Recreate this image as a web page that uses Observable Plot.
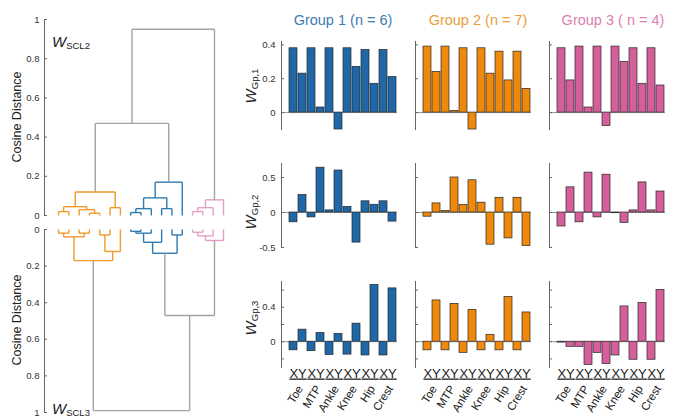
<!DOCTYPE html>
<html><head><meta charset="utf-8">
<script src="https://cdn.jsdelivr.net/npm/d3@7"></script>
<script src="https://cdn.jsdelivr.net/npm/@observablehq/plot@0.6"></script>
<style>
body{margin:0;background:#fff;font-family:"Liberation Sans",Arial,sans-serif;}
#c{position:relative;width:675px;height:419px;overflow:hidden;background:#fff;}
#c svg{position:absolute;}
.t{position:absolute;white-space:nowrap;line-height:1;}
.title{font-size:14.5px;transform:translateX(-50%);}
.rot{transform:translate(-50%,-50%) rotate(-90deg);}
.w{font-style:italic;font-size:15px;color:#222;}
.w sub{font-style:normal;font-size:9.5px;vertical-align:-2px;}
.cd{font-size:12.5px;color:#222;}
</style></head><body><div id="c"></div>
<script>
// ---------- data ----------
const joints = ["Toe","MTP","Ankle","Knee","Hip","Crest"];
const axesXY = ["X","Y"];
const groupTitles = ["Group 1 (n = 6)","Group 2 (n = 7)","Group 3 ( n = 4)"];
const groupSizes = [6,7,4];
const barColors = ["#1f67a6","#ef890b","#d55f9b"];
const titleColors = ["#3b7cb0","#e9a03a","#de80ae"];
const weightLabels = ["Gp,1","Gp,2","Gp,3"];

// W_Gp,1 row
const wGp1_group1 = [0.38,0.23,0.38,0.03,0.38,-0.10,0.38,0.27,0.37,0.17,0.37,0.21];
const wGp1_group2 = [0.39,0.24,0.39,0.01,0.38,-0.10,0.38,0.23,0.36,0.19,0.36,0.14];
const wGp1_group3 = [0.38,0.19,0.39,0.03,0.39,-0.08,0.39,0.30,0.38,0.17,0.38,0.16];
// W_Gp,2 row
const wGp2_group1 = [-0.14,0.25,-0.07,0.64,0.03,0.60,0.08,-0.43,0.16,0.11,0.16,-0.13];
const wGp2_group2 = [-0.06,0.13,0.02,0.50,0.11,0.46,0.14,-0.46,0.21,-0.37,0.21,-0.48];
const wGp2_group3 = [-0.20,0.36,-0.14,0.57,-0.07,0.54,-0.01,-0.15,0.03,0.43,0.03,0.30];
// W_Gp,3 row
const wGp3_group1 = [-0.10,0.14,-0.11,0.10,-0.155,0.09,-0.15,0.21,-0.16,0.66,-0.16,0.62];
const wGp3_group2 = [-0.10,0.48,-0.10,0.44,-0.13,0.37,-0.10,0.08,-0.10,0.52,-0.10,0.34];
const wGp3_group3 = [-0.01,-0.06,-0.06,-0.27,-0.13,-0.26,-0.16,0.41,-0.21,0.45,-0.21,0.60];

// dendrogram leaves (left to right): orange group (7), blue group (6), pink group (4)
const leafGroupOrder = [1,0,2];
const distTicks = [0,0.2,0.4,0.6,0.8,1];
// linkage trees: [height, left, right]; numbers are leaf indices
const treeSCL2 = [0.95,
  [0.47,
    [0.12, [0.045, [0.02,0,1], [0.03,2,[0.012,3,4]]], [0.04,5,6]],
    [0.17, [0.09, [0.035,[0.015,7,8],9], [0.035,10,11]], 12]],
  [0.08, [0.04,[0.02,13,14],15], 16]];
const treeSCL3 = [0.99,
  [0.17, [0.04,[0.02,0,1],[0.02,2,3]], [0.12,[0.03,4,5],6]],
  [0.47,
    [0.13, [0.07,[0.02,[0.01,7,8],9],10], [0.03,11,12]],
    [0.06, [0.035,[0.015,13,14],15], 16]]];
const dendroColors = ["#2f7bb0","#ee9a2c","#e3a0c4"];
const linkGray = "#a3a3a3";

// ---------- layout ----------
const C = document.getElementById("c");
const FONT = '"Liberation Sans",Arial,sans-serif';
function place(svg, left, top){ svg.style.left = left+"px"; svg.style.top = top+"px"; C.appendChild(svg); }
function html(cls, text, left, top, color){
  const d = document.createElement("div"); d.className = "t "+cls; d.innerHTML = text;
  d.style.left = left+"px"; d.style.top = top+"px"; if (color) d.style.color = color; C.appendChild(d); return d;
}

const leafGroup = [];
leafGroupOrder.forEach(g => { for (let i=0;i<groupSizes[g];i++) leafGroup.push(g); });

function linkSegments(tree){
  const out = [];
  function walk(n){
    if (typeof n === "number") return {x:n, h:0, leaves:[n]};
    const [h,a,b] = n; const A = walk(a), B = walk(b);
    const leaves = A.leaves.concat(B.leaves);
    const gs = new Set(leaves.map(l => leafGroup[l]));
    const c = gs.size === 1 ? dendroColors[[...gs][0]] : linkGray;
    out.push({x1:A.x,y1:A.h,x2:A.x,y2:h,c});
    out.push({x1:B.x,y1:B.h,x2:B.x,y2:h,c});
    out.push({x1:A.x,y1:h,x2:B.x,y2:h,c});
    return {x:(A.x+B.x)/2, h, leaves};
  }
  walk(tree); return out;
}
const fmtDist = d => String(d);

function dendro(tree, reverse, height, mt, mb){
  return Plot.plot({
    width: 235, height, marginLeft: 44, marginRight: 12, marginTop: mt, marginBottom: mb,
    style: {background:"transparent", overflow:"visible", fontFamily: FONT, fontSize:"9.5px", color:"#333"},
    x: {domain:[0,16], insetLeft:14, axis:null},
    y: {domain:[0,1], reverse, axis:null},
    color: {type:"identity"},
    marks: [
      Plot.frame({anchor:"left", stroke:"#666"}),
      Plot.axisY({ticks: distTicks, tickSize:0, tickPadding:5, tickFormat: fmtDist, label: null}),
      Plot.axisY({ticks: distTicks, tickSize:-3, tickFormat: () => "", stroke:"#666", label: null}),
      Plot.link(linkSegments(tree), {x1:"x1", y1:"y1", x2:"x2", y2:"y2", stroke:"c", strokeWidth:1.4})
    ]
  });
}
place(dendro(treeSCL2, false, 218, 19, 3), 0, 0);
place(dendro(treeSCL3, true, 195, 7, 5), 0, 222);

html("cd rot", "Cosine Distance", 17, 117);
html("cd rot", "Cosine Distance", 17, 320);
html("w", "W<sub>SCL2</sub>", 52, 34);
html("w", "W<sub>SCL3</sub>", 52, 401);

// ---------- bar panels ----------
const keys = [];
joints.forEach(j => axesXY.forEach(a => keys.push(j+" "+a)));
const rowsCfg = [
  {domain:[-0.1,0.42], top:41, bottom:129, ticks:[0,0.2,0.4], show:[0,0.2,0.4], labelY:86},
  {domain:[-0.5,0.7], top:163, bottom:247, ticks:[-0.5,0,0.5], show:[-0.5,0,0.5], labelY:212},
  {domain:[-0.3,0.7], top:281, bottom:367, ticks:[-0.2,0,0.2,0.4,0.6], show:[0,0.4], labelY:318}
];
const colAxisX = [281, 415, 549];
const data = [
  [wGp1_group1, wGp1_group2, wGp1_group3],
  [wGp2_group1, wGp2_group2, wGp2_group3],
  [wGp3_group1, wGp3_group2, wGp3_group3]
];
const ML = 30, PW = 150;
function panel(vals, color, col, row){
  const r = rowsCfg[row];
  const mt = 5, mb = row === 2 ? 60 : 5;
  const d = vals.map((v,i) => ({key: keys[i], v}));
  const showLabels = col === 0;
  const marks = [
    Plot.ruleY([0], {stroke:"#8a8a8a", strokeWidth:0.9}),
    Plot.barY(d, {x:"key", y:"v", fill: color, stroke:"#262626", strokeWidth:0.7}),
    Plot.frame({anchor:"left", stroke:"#666"}),
    Plot.axisY({ticks: r.ticks, tickSize:0, tickPadding:6, label: null,
      tickFormat: v => showLabels && r.show.includes(v) ? String(v) : ""}),
    Plot.axisY({ticks: r.ticks, tickSize:-3, tickFormat: () => "", stroke:"#666", label: null})
  ];
  if (row === 2) {
    marks.push(Plot.text(joints, {x: j => j+" X", text: () => "XY", frameAnchor:"bottom",
      dy: 10, dx: 4.6, fontSize: 13, fill:"#222"}));
    marks.push(Plot.text(joints, {x: j => j+" X", text: j => j, frameAnchor:"bottom",
      dy: 21, dx: 10, rotate: -58, textAnchor:"end", fontSize: 11.5, fill:"#222"}));
  }
  const svg = Plot.plot({
    width: PW, height: (r.bottom - r.top) + mt + mb,
    marginLeft: ML, marginRight: 4, marginTop: mt, marginBottom: mb,
    style: {background:"transparent", overflow:"visible", fontFamily: FONT, fontSize:"9.5px", color:"#333"},
    x: {type:"band", domain: keys, insetLeft: 7, paddingInner: 0.09, paddingOuter: 0, axis: null},
    y: {domain: r.domain, axis: null},
    marks
  });
  d3.select(svg).selectAll("text").filter(function(){ return this.textContent === "XY"; })
    .style("text-decoration", "underline");
  place(svg, colAxisX[col] - ML, r.top - mt);
}
for (let row=0; row<3; row++) for (let col=0; col<3; col++) panel(data[row][col], barColors[col], col, row);

groupTitles.forEach((t,i) => html("title", t, [343,478,613][i], 13, titleColors[i]));
weightLabels.forEach((t,i) => html("w rot", "W<sub>"+t+"</sub>", 251, rowsCfg[i].labelY));
</script></body></html>
